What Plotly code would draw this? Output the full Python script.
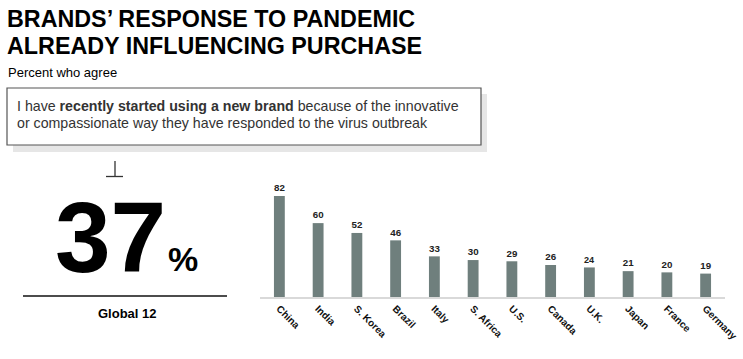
import plotly.graph_objects as go

countries = ["China", "India", "S. Korea", "Brazil", "Italy", "S. Africa", "U.S.",
             "Canada", "U.K.", "Japan", "France", "Germany"]
values = [82, 60, 52, 46, 33, 30, 29, 26, 24, 21, 20, 19]
global_value = 37

W, H = 743, 359
L, R, T, B = 260, 18, 180, 62
PW = W - L - R
PH = H - T - B

def px(x):
    return (x - L) / PW

def py(y):
    return (H - B - y) / PH

FONT = "Liberation Sans, Arial, sans-serif"

fig = go.Figure()
fig.add_trace(go.Bar(
    x=countries, y=values, width=0.28,
    marker=dict(color="#6f7f7d", line=dict(width=0)),
    text=values, texttemplate="<b>%{text}</b>", textposition="outside",
    textfont=dict(size=11, color="#222", family=FONT),
    cliponaxis=False, hoverinfo="skip",
))

ann = []
def add(text, x, y, size, color="#000", xa="left", ya="middle"):
    ann.append(dict(text=text, x=px(x), y=py(y), xref="paper", yref="paper",
                    showarrow=False, xanchor=xa, yanchor=ya,
                    font=dict(size=size, color=color, family=FONT)))

add("<b>BRANDS’ RESPONSE TO PANDEMIC</b>", 5, 19, 23.3)
add("<b>ALREADY INFLUENCING PURCHASE</b>", 5, 46, 23.3)
add("Percent who agree", 6, 72, 13)
add("I have <b>recently started using a new brand</b> because of the innovative", 15, 106, 14.2, "#333")
add("or compassionate way they have responded to the virus outbreak", 15, 123, 14.2, "#333")
add(f"<b>{global_value}</b>", 110, 237, 100, "#000", "center")
add("<b>%</b>", 183, 259, 34, "#000", "center")
add("<b>Global 12</b>", 127, 313, 13, "#000", "center")

def line(x0, y0, x1, y1, color, width):
    return dict(type="line", xref="paper", yref="paper", x0=px(x0), x1=px(x1), y0=py(y0), y1=py(y1),
                line=dict(color=color, width=width))

shapes = [
    dict(type="rect", xref="paper", yref="paper", x0=px(13), x1=px(487), y0=py(94), y1=py(152),
         fillcolor="#e6e6e6", line=dict(width=0), layer="below"),
    dict(type="rect", xref="paper", yref="paper", x0=px(7), x1=px(481), y0=py(88), y1=py(145),
         fillcolor="#ffffff", line=dict(color="#555", width=1.2)),
    line(23, 296, 227, 296, "#111", 1.5),
    line(115, 161, 115, 176.5, "#333", 1.3),
    line(106, 176.5, 123, 176.5, "#333", 1.3),
]

fig.update_layout(
    width=W, height=H, margin=dict(l=L, r=R, t=T, b=B, autoexpand=False),
    paper_bgcolor="white", plot_bgcolor="white", showlegend=False,
    annotations=ann, shapes=shapes,
    xaxis=dict(range=[-0.5, 11.5], tickangle=45, showline=True, linecolor="#d9d9d9", linewidth=2,
               ticks="", tickfont=dict(size=10, color="#111", family=FONT), showgrid=False,
               fixedrange=True, automargin=False),
    yaxis=dict(range=[0, 95], visible=False, showgrid=False, fixedrange=True, automargin=False),
    font=dict(family=FONT),
)
fig.update_xaxes(tickvals=countries, ticktext=[f"<b>{c}</b>" for c in countries])

fig.write_html("out.html", post_script="document.body.style.margin='0';",
               config={"displayModeBar": False})
